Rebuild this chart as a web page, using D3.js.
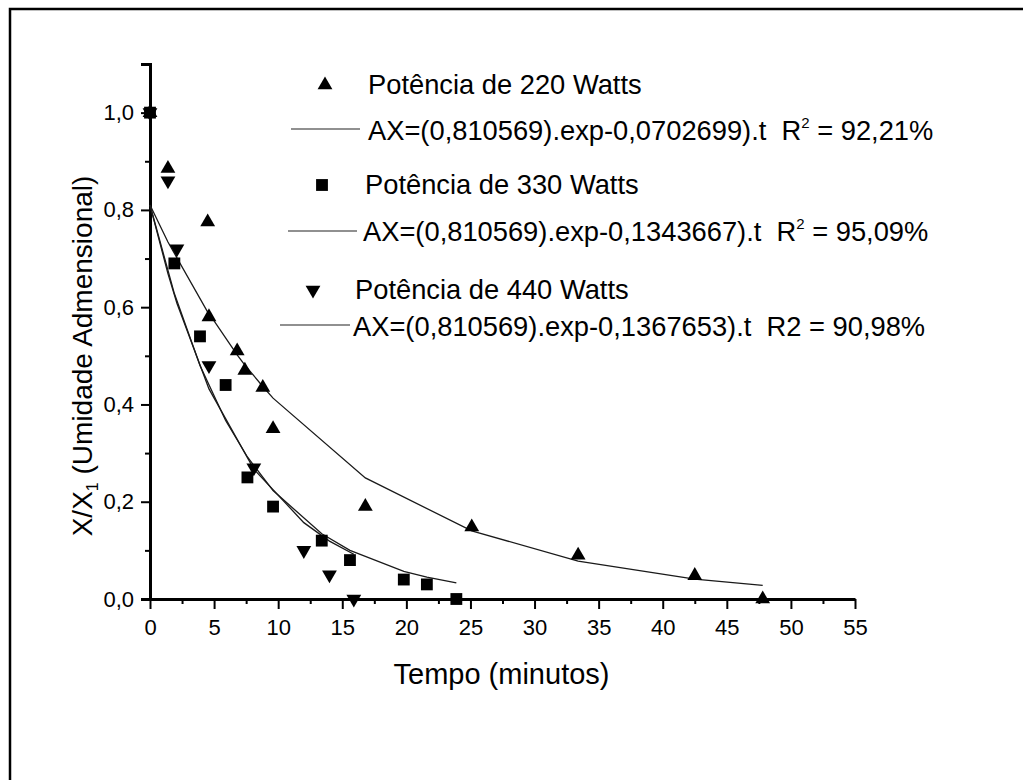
<!DOCTYPE html>
<html>
<head>
<meta charset="utf-8">
<script src="https://cdn.jsdelivr.net/npm/d3@7"></script>
<style>
  html, body { margin: 0; padding: 0; background: #fff; }
  svg { display: block; font-family: Arial, 'Liberation Sans', sans-serif; }
  svg text { white-space: pre; }
  .tick text { font-size: 22px; font-family: Arial, 'Liberation Sans', sans-serif; fill: #000; }
</style>
</head>
<body>
<div id="chart"></div>
<script>
const t220 = [0, 1.4, 4.5, 4.6, 6.8, 7.4, 8.8, 9.6, 16.8, 25.1, 33.4, 42.5, 47.8];
const v220 = [1.0, 0.885, 0.775, 0.58, 0.51, 0.47, 0.435, 0.35, 0.19, 0.148, 0.09, 0.048, 0.0];

const t330 = [0, 1.9, 3.9, 5.9, 7.6, 9.6, 13.4, 15.6, 19.8, 21.6, 23.9];
const v330 = [1.0, 0.69, 0.54, 0.44, 0.25, 0.19, 0.12, 0.08, 0.04, 0.03, 0.0];

const t440 = [0, 1.4, 2.1, 4.6, 8.1, 12.0, 14.0, 15.9];
const v440 = [1.0, 0.86, 0.72, 0.48, 0.27, 0.10, 0.05, 0.0];

// fitted curves as drawn (polyline through the sample times)
const fit220 = [0.81, 0.734, 0.59, 0.587, 0.502, 0.481, 0.437, 0.413, 0.249, 0.14, 0.078, 0.041, 0.028];
const fit330 = [0.81, 0.628, 0.48, 0.367, 0.292, 0.223, 0.134, 0.10, 0.057, 0.045, 0.033];
const fit440 = [0.81, 0.669, 0.608, 0.432, 0.267, 0.157, 0.119, 0.092];

const xTicks = [0, 5, 10, 15, 20, 25, 30, 35, 40, 45, 50, 55];
const yTicks = [0, 0.2, 0.4, 0.6, 0.8, 1.0];

const legendItems = [
  { symbol: 'up',   label: 'Potência de 220 Watts', fit: 'AX=(0,810569).exp-0,0702699).t  R', sup: '2', rest: ' = 92,21%' },
  { symbol: 'sq',   label: 'Potência de 330 Watts', fit: 'AX=(0,810569).exp-0,1343667).t  R', sup: '2', rest: ' = 95,09%' },
  { symbol: 'down', label: 'Potência de 440 Watts', fit: 'AX=(0,810569).exp-0,1367653).t  R2 = 90,98%', sup: '', rest: '' }
];

const W = 1035, H = 780;
const margin = { top: 64, right: 180, bottom: 181, left: 150 };
const width  = W - margin.left - margin.right;   // 705
const height = H - margin.top - margin.bottom;   // 535

const svg = d3.select('#chart')
  .append('svg')
  .attr('width', W)
  .attr('height', H);

svg.append('rect').attr('width', W).attr('height', H).attr('fill', '#fff');

// scan frame (top + left edges)
svg.append('path')
  .attr('d', 'M10,780 V9 H1023')
  .attr('fill', 'none')
  .attr('stroke', '#000')
  .attr('stroke-width', 2.5);

const g = svg.append('g')
  .attr('transform', `translate(${margin.left},${margin.top})`);

const x = d3.scaleLinear().domain([0, 55]).range([0, width]);
const y = d3.scaleLinear().domain([0, 1.1]).range([height, 0]);

// minor ticks
g.append('g')
  .attr('transform', `translate(0,${height})`)
  .call(d3.axisBottom(x).tickValues(d3.range(2.5, 55, 5)).tickSize(5).tickSizeOuter(0).tickFormat(''))
  .call(a => a.select('.domain').remove())
  .call(a => a.selectAll('line').attr('stroke-width', 2));

g.append('g')
  .call(d3.axisLeft(y).tickValues([0.1, 0.3, 0.5, 0.7, 0.9]).tickSize(5).tickSizeOuter(0).tickFormat(''))
  .call(a => a.select('.domain').remove())
  .call(a => a.selectAll('line').attr('stroke-width', 2));

const fmt = d => d3.format('.1f')(d).replace('.', ',');

const xAxis = g.append('g')
  .attr('transform', `translate(0,${height})`)
  .call(d3.axisBottom(x).tickValues(xTicks).tickSize(10).tickSizeOuter(0).tickPadding(10));

const yAxis = g.append('g')
  .call(d3.axisLeft(y).tickValues(yTicks).tickSize(9).tickSizeOuter(9).tickPadding(7).tickFormat(fmt));

[xAxis, yAxis].forEach(a => {
  a.select('.domain').attr('stroke-width', 3);
  a.selectAll('.tick line').attr('stroke-width', 2);
});

// fitted curves
const line = d3.line()
  .x(d => x(d[0]))
  .y(d => y(d[1]));

const fits = [
  d3.zip(t220, fit220),
  d3.zip(t330, fit330),
  d3.zip(t440, fit440)
];

g.selectAll('.fit')
  .data(fits)
  .join('path')
  .attr('class', 'fit')
  .attr('d', line)
  .attr('fill', 'none')
  .attr('stroke', '#1a1a1a')
  .attr('stroke-width', 1.3);

// markers
const triUp   = d3.symbol().type(d3.symbolTriangle).size(95);
const square  = d3.symbol().type(d3.symbolSquare).size(140);

function drawMarkers(ts, vs, kind) {
  g.append('g')
    .selectAll('path')
    .data(d3.zip(ts, vs))
    .join('path')
    .attr('d', kind === 'sq' ? square() : triUp())
    .attr('transform', d => `translate(${x(d[0])},${y(d[1])})${kind === 'down' ? ' rotate(180)' : ''}`)
    .attr('fill', '#000');
}

drawMarkers(t440, v440, 'down');
drawMarkers(t220, v220, 'up');
drawMarkers(t330, v330, 'sq');

// legend
const legendPos = [
  { mx: 325, my: 85,  tx: 368, ty: 94,  lx1: 291, lx2: 360, ly: 129, fx: 368, fy: 140 },
  { mx: 322, my: 185, tx: 365, ty: 194, lx1: 288, lx2: 357, ly: 231, fx: 363, fy: 241 },
  { mx: 313, my: 290, tx: 355, ty: 299, lx1: 280, lx2: 350, ly: 325, fx: 353, fy: 336 }
];

const legend = svg.append('g').attr('font-size', 27.3).attr('fill', '#000');

legendItems.forEach((item, i) => {
  const p = legendPos[i];
  legend.append('path')
    .attr('d', item.symbol === 'sq' ? square() : triUp())
    .attr('transform', `translate(${p.mx},${p.my})${item.symbol === 'down' ? ' rotate(180)' : ''}`)
    .attr('fill', '#000');
  legend.append('text')
    .attr('x', p.tx).attr('y', p.ty)
    .text(item.label);
  legend.append('line')
    .attr('x1', p.lx1).attr('x2', p.lx2)
    .attr('y1', p.ly).attr('y2', p.ly)
    .attr('stroke', '#222')
    .attr('stroke-width', 1.2);
  const t = legend.append('text').attr('x', p.fx).attr('y', p.fy);
  t.append('tspan').text(item.fit);
  if (item.sup) {
    t.append('tspan').attr('font-size', 15).attr('dy', -12).text(item.sup);
    t.append('tspan').attr('dy', 12).text(item.rest);
  }
});

// axis titles
svg.append('text')
  .attr('x', margin.left + x(27.5) - 1)
  .attr('y', 684)
  .attr('text-anchor', 'middle')
  .attr('font-size', 29)
  .text('Tempo (minutos)');

const yl = svg.append('text')
  .attr('transform', 'translate(92,356) rotate(-90)')
  .attr('text-anchor', 'middle')
  .attr('font-size', 28);
yl.append('tspan').text('X/X');
yl.append('tspan').attr('font-size', 16).attr('dy', 6).text('1');
yl.append('tspan').attr('dy', -6).text(' (Umidade Admensional)');
</script>
</body>
</html>
